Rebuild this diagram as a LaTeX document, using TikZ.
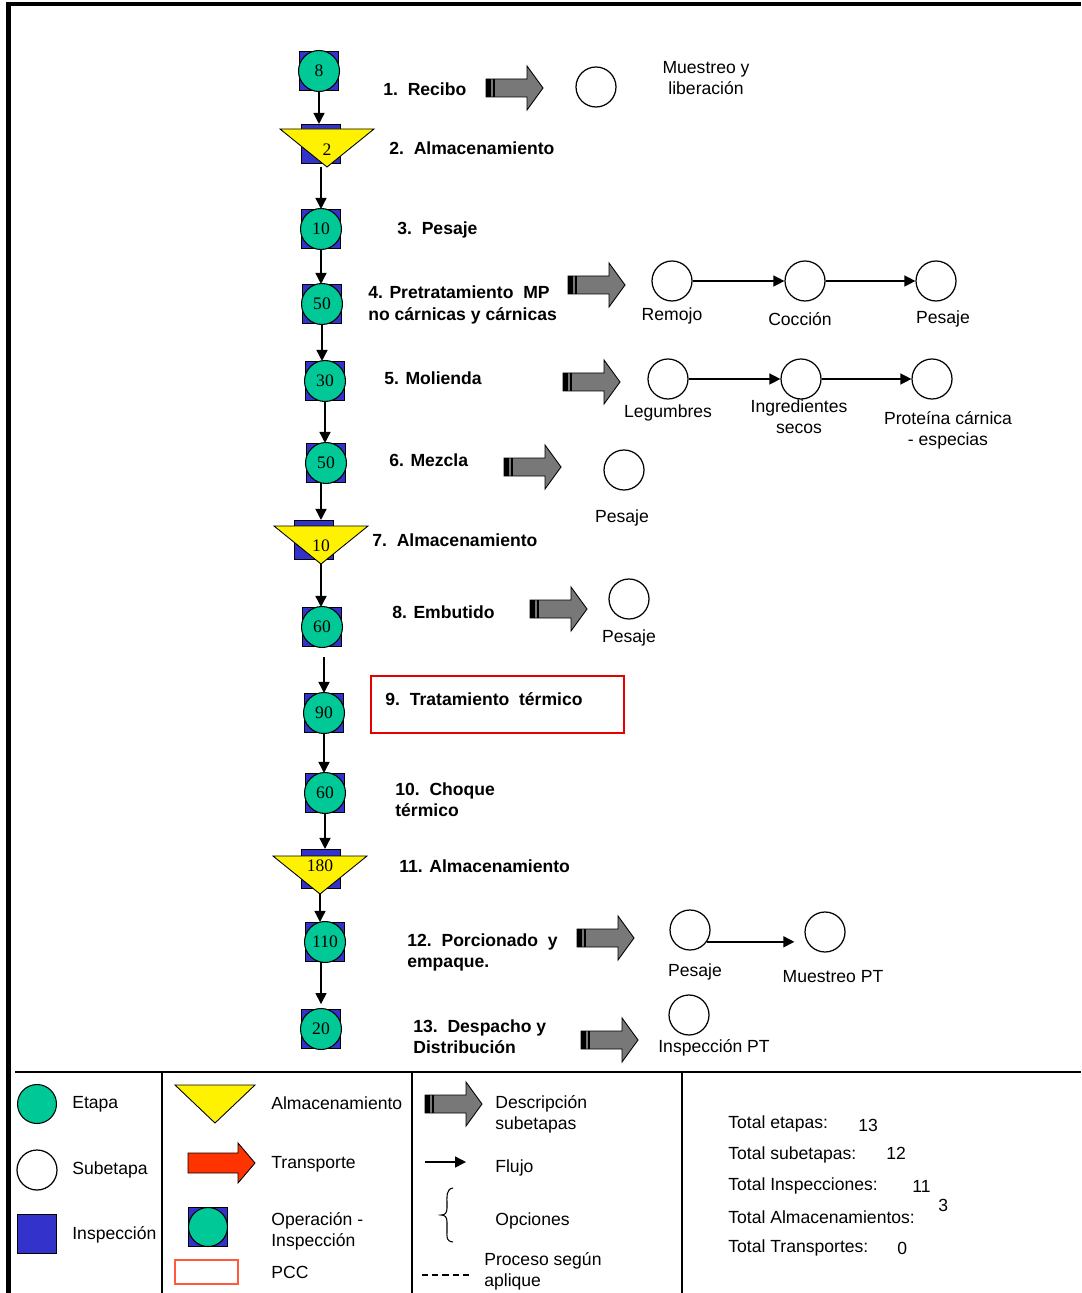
\documentclass[tikz,border=0pt]{standalone}
\usepackage{fontspec}
\setmainfont{Liberation Sans}
\newfontfamily\numfont{Liberation Serif}
\usetikzlibrary{arrows.meta}

\definecolor{etapagreen}{RGB}{0,200,150}
\definecolor{inspblue}{RGB}{51,51,204}
\definecolor{descgray}{RGB}{120,120,120}
\definecolor{transred}{RGB}{255,51,0}
\definecolor{pccred}{RGB}{255,90,60}
\definecolor{boxred}{RGB}{230,0,0}

\begin{document}
\begin{tikzpicture}[
    x=0.02cm, y=-0.02cm,
    >={Triangle[length=2.2mm, width=2.2mm]},
    insp/.style     = {draw=black, line width=0.6pt, fill=inspblue,
                       minimum size=0.78cm, inner sep=0pt},
    etapa/.style    = {circle, draw=black, line width=0.6pt, fill=etapagreen,
                       minimum size=0.82cm, inner sep=0pt, font=\numfont},
    subetapa/.style = {circle, draw=black, line width=0.7pt, fill=white,
                       minimum size=0.8cm, inner sep=0pt},
    almac/.style    = {draw=black, line width=0.5pt, fill=yellow},
    flujo/.style    = {line width=0.8pt, ->},
    paso/.style     = {anchor=west, align=left, inner sep=0pt, font=\bfseries},
    txt/.style      = {align=center, inner sep=0pt},
    ley/.style      = {anchor=west, align=left, inner sep=0pt},
    borde/.style    = {line width=2.8pt},
    divisor/.style  = {line width=0.8pt},
    font=\fontsize{10}{12}\selectfont,
  ]
  \useasboundingbox (0,0) rectangle (1081,1293);

  % --- page frame and legend grid ------------------------------------------
  \draw[borde] (8.5,1293) -- (8.5,4) -- (1081,4);
  \draw[divisor] (15,1072) -- (1081,1072);
  \foreach \x in {162, 412, 682} {
    \draw[divisor] (\x,1072) -- (\x,1293);
  }

  % --- operation - inspection steps ----------------------------------------
  \foreach \n/\x/\y/\t in {1/319/71/8, 3/321/229/10, 4/322/304/50,
      5/325/381/30, 6/326/463/50, 8/322/627/60, 9/324/713/90,
      10/325/793/60, 12/325/942/110, 13/321/1029/20} {
    \node[insp]  (s\n) at (\x,\y) {};
    \node[etapa] (c\n) at (\x,\y) {\t};
  }

  % --- storage steps (square behind, triangle in front) --------------------
  \foreach \n/\sx/\sy/\tx/\ty/\ly/\t in {2/321/144/327/129/150/2,
      7/314/540/321/526/546/10, 11/321/869/320/856/866/180} {
    \node[insp] (s\n) at (\sx,\sy) {};
    \draw[almac] (\tx-47,\ty) -- (\tx+47,\ty) -- (\tx,\ty+38) -- cycle;
    \coordinate (t\n) at (\tx,\ty+38);
    \node[font=\numfont, inner sep=0pt] (n\n) at (\tx,\ly) {\t};
  }

  % --- main flow -----------------------------------------------------------
  \coordinate (e8) at ([yshift=-5.7pt]s8.south);
  \draw[flujo] (s1.south) -- (s1.south |- s2.north);
  \draw[flujo] (s3.north |- t2) -- (s3.north);
  \draw[flujo] (s3.south) -- (s3.south |- s4.north);
  \draw[flujo] (s4.south) -- (s4.south |- s5.north);
  \draw[flujo] (s5.south) -- (s5.south |- s6.north);
  \draw[flujo] (t7 |- s6.south) -- (t7 |- s7.north);
  \draw[flujo] (t7) -- (t7 |- s8.north);
  \draw[flujo] (e8 -| s9.north) -- (s9.north);
  \draw[flujo] (s9.south) -- (s9.south |- s10.north);
  \draw[flujo] (s10.south) -- (s10.south |- s11.north);
  \draw[flujo] (t11) -- (t11 |- s12.north);
  \draw[flujo] (s13.north |- s12.south) -- ([yshift=2.8pt]s13.north);

  % --- step names ----------------------------------------------------------
  \node[paso] (l1)  at (383,89)   {1.~~Recibo};
  \node[paso] (l2)  at (389,148)  {2.~~Almacenamiento};
  \node[paso] (l3)  at (397,230)  {3.~~Pesaje};
  \node[paso] (l4)  at (368,305)  {4. Pretratamiento~~MP\\no cárnicas y cárnicas};
  \node[paso] (l5)  at (384,378)  {5. Molienda};
  \node[paso] (l6)  at (389,460)  {6. Mezcla};
  \node[paso] (l7)  at (372,540)  {7.~~Almacenamiento};
  \node[paso] (l8)  at (392,612)  {8. Embutido};
  \node[paso] (l9)  at (385,699)  {9.~~Tratamiento~~térmico};
  \node[paso] (l10) at (395,800)  {10.~~Choque\\térmico};
  \node[paso] (l11) at (399,866)  {11. Almacenamiento};
  \node[paso] (l12) at (407,952)  {12.~~Porcionado~~y\\empaque.};
  \node[paso] (l13) at (413,1037) {13.~~Despacho y\\Distribución};

  % critical control point
  \draw[boxred, line width=1pt] (371,676) rectangle (624,733);

  % --- sub-step description arrows -----------------------------------------
  \foreach \ax/\ay in {486/88, 568/285, 563/382, 504/467, 530/609,
      577/938, 581/1040, 425/1104} {
    \draw[fill=descgray, line width=0.5pt] (\ax,\ay-9) -- (\ax+41,\ay-9)
      -- (\ax+41,\ay-22) -- (\ax+57,\ay) -- (\ax+41,\ay+22)
      -- (\ax+41,\ay+9) -- (\ax,\ay+9) -- cycle;
    \fill[black] (\ax,\ay-9) rectangle (\ax+5,\ay+9);
    \fill[black] (\ax+7,\ay-9) rectangle (\ax+9,\ay+9);
  }

  % --- sub-steps -----------------------------------------------------------
  \node[subetapa] (p1a)  at (596,87)  {};
  \node[subetapa] (p4a)  at (672,281) {};
  \node[subetapa] (p4b)  at (805,281) {};
  \node[subetapa] (p4c)  at (936,281) {};
  \node[subetapa] (p5a)  at (668,379) {};
  \node[subetapa] (p5b)  at (801,379) {};
  \node[subetapa] (p5c)  at (932,379) {};
  \node[subetapa] (p6a)  at (624,470) {};
  \node[subetapa] (p8a)  at (629,599) {};
  \node[subetapa] (p12a) at (690,930) {};
  \node[subetapa] (p12b) at (825,932) {};
  \node[subetapa] (p13a) at (689,1015) {};

  \draw[flujo] (p4a) -- (p4b);
  \draw[flujo] (p4b) -- (p4c);
  \draw[flujo] (p5a) -- (p5b);
  \draw[flujo] (p5b) -- (p5c);
  \draw[flujo, shorten >=5.7pt] (p12a.-35) -- (p12a.-35 -| p12b.west);

  \node[txt] (q1a)  at (706,78)   {Muestreo y\\liberación};
  \node[txt] (q4a)  at (672,316)  {Remojo};
  \node[txt] (q4b)  at (800,319)  {Cocción};
  \node[txt] (q4c)  at (943,319)  {Pesaje};
  \node[txt] (q5a)  at (668,413)  {Legumbres};
  \node[txt] (q5b)  at (799,417)  {Ingredientes\\secos};
  \node[txt] (q5c)  at (948,430)  {Proteína cárnica\\- especias};
  \node[txt] (q6a)  at (622,518)  {Pesaje};
  \node[txt] (q8a)  at (629,638)  {Pesaje};
  \node[txt] (q12a) at (695,972)  {Pesaje};
  \node[txt] (q12b) at (833,977)  {Muestreo PT};
  \node[txt] (q13a) at (714,1048) {Inspección PT};

  % --- legend: column 1 ----------------------------------------------------
  \node[etapa, minimum size=0.78cm] (ke) at (37,1104) {};
  \node[ley] at (72,1104) {Etapa};
  \node[subetapa] (ks) at (37,1170) {};
  \node[ley] at (72,1170) {Subetapa};
  \node[insp] (ki) at (37,1234) {};
  \node[ley] at (72,1235) {Inspección};

  % --- legend: column 2 ----------------------------------------------------
  \draw[almac] (175,1085) -- (255,1085) -- (215,1123) -- cycle;
  \node[ley] at (271,1103) {Almacenamiento};
  \draw[fill=transred, line width=0.5pt] (188,1153) -- (238,1153)
    -- (238,1143) -- (255,1163) -- (238,1183) -- (238,1173)
    -- (188,1173) -- cycle;
  \node[ley] at (271,1164) {Transporte};
  \node[insp] (koi) at (208,1227) {};
  \node[etapa, minimum size=0.78cm] (koc) at (208,1227) {};
  \node[ley] at (271,1231) {Operación -\\Inspección};
  \draw[pccred, line width=0.8pt] (175,1260) rectangle (238,1284);
  \node[ley] at (271,1272) {PCC};

  % --- legend: column 3 ----------------------------------------------------
  \node[ley] at (495,1114) {Descripción\\subetapas};
  \coordinate (fl1) at (425,1162);
  \coordinate (fl2) at (466,1162);
  \draw[flujo] (fl1) -- (fl2);
  \node[ley] at (495,1168) {Flujo};
  \draw[line width=0.6pt] (453,1188) .. controls (446,1189) and (447,1196) .. (447,1205)
    -- (447,1208) .. controls (447,1213) and (445,1215) .. (441,1215)
    .. controls (445,1215) and (447,1217) .. (447,1222)
    -- (447,1230) .. controls (447,1238) and (446,1241) .. (453,1242);
  \node[ley] at (495,1221) {Opciones};
  \draw[dash pattern=on 3.5pt off 2.3pt, line width=0.6pt] (422,1275) -- (472,1275);
  \node[ley] at (484,1271) {Proceso según\\aplique};

  % --- legend: totals ------------------------------------------------------
  \node[ley] at (728,1124) {Total etapas:};
  \node[ley] at (858,1125) {13};
  \node[ley] at (728,1155) {Total subetapas:};
  \node[ley] at (886,1153) {12};
  \node[ley] at (728,1186) {Total Inspecciones:};
  \node[ley] at (912,1186) {11};
  \node[ley] at (728,1217) {Total Almacenamientos:};
  \node[ley] at (938,1205) {3};
  \node[ley] at (728,1248) {Total Transportes:};
  \node[ley] at (897,1248) {0};

\end{tikzpicture}
\end{document}
